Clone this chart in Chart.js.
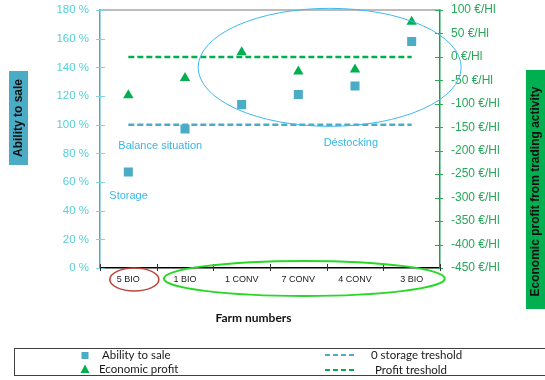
<!DOCTYPE html>
<html>
<head>
<meta charset="utf-8">
<script src="https://cdn.jsdelivr.net/npm/chart.js@4.4.1/dist/chart.umd.min.js"></script>
<style>
  html, body { margin: 0; padding: 0; background: #ffffff; }
  #wrap { width: 545px; height: 380px; }
</style>
</head>
<body>
<div id="wrap"><canvas id="chart" width="545" height="380"></canvas></div>
<script>
// Farms on the horizontal axis
const farms = ['5 BIO', '1 BIO', '1 CONV', '7 CONV', '4 CONV', '3 BIO'];
// Ability to sale, % (left axis)
const abilityToSale = [67, 97, 114, 121, 127, 158];
// Economic profit from trading activity, €/Hl (right axis)
const economicProfit = [-82, -45, 10, -31, -27, 75];
// Reference lines
const storageThreshold = [100, 100, 100, 100, 100, 100];
const profitThreshold = [0, 0, 0, 0, 0, 0];
// Axis ranges
const pctAxis = { min: 0, max: 180, step: 20 };
const euroAxis = { min: -450, max: 100, step: 50 };

const BLUE = '#4bacc6';
const GREEN = '#00b050';
const NOTE = '#38b6e8';

// Fixed plot frame inside the 545x380 canvas
const FRAME = { left: 100, right: 440, top: 10, bottom: 268 };

const decorations = {
  id: 'decorations',
  afterDraw(chart) {
    const ctx = chart.ctx;
    const a = chart.chartArea;
    const x = chart.scales.x;
    const y = chart.scales.y;
    const y1 = chart.scales.y1;
    ctx.save();

    // top frame line
    ctx.strokeStyle = '#a6a6a6';
    ctx.lineWidth = 1.5;
    ctx.beginPath(); ctx.moveTo(a.left, a.top); ctx.lineTo(a.right, a.top); ctx.stroke();

    // tick marks crossing the axes
    ctx.lineWidth = 1;
    ctx.strokeStyle = '#86cfdc';
    y.ticks.forEach(t => {
      const py = Math.round(y.getPixelForValue(t.value)) + 0.5;
      ctx.beginPath(); ctx.moveTo(a.left - 4, py); ctx.lineTo(a.left + 5, py); ctx.stroke();
    });
    ctx.strokeStyle = '#2fa65a';
    y1.ticks.forEach(t => {
      const py = Math.round(y1.getPixelForValue(t.value)) + 0.5;
      ctx.beginPath(); ctx.moveTo(a.right - 5, py); ctx.lineTo(a.right + 3, py); ctx.stroke();
    });
    ctx.strokeStyle = '#333';
    const bounds = [a.left];
    for (let i = 0; i < farms.length - 1; i++) {
      bounds.push((x.getPixelForValue(i) + x.getPixelForValue(i + 1)) / 2);
    }
    bounds.push(a.right);
    bounds.forEach(bx => {
      const px = Math.round(bx) + 0.5;
      ctx.beginPath(); ctx.moveTo(px, a.bottom - 4); ctx.lineTo(px, a.bottom + 3); ctx.stroke();
    });

    // notes inside the plot
    ctx.fillStyle = NOTE;
    ctx.font = '11px "Liberation Sans", Arial, sans-serif';
    ctx.textBaseline = 'middle';
    ctx.textAlign = 'left';
    const x0 = x.getPixelForValue(0);
    ctx.fillText('Balance situation', x0 - 10, y.getPixelForValue(85));
    ctx.fillText('Storage', x0 - 19, y.getPixelForValue(50.5));
    ctx.fillText('Déstocking', (x.getPixelForValue(3) + x.getPixelForValue(4)) / 2 - 3, y.getPixelForValue(87.5));

    // grouping ellipses
    ctx.lineWidth = 1;
    ctx.strokeStyle = '#3fb8ec';
    ctx.beginPath();
    ctx.ellipse((x.getPixelForValue(3) + x.getPixelForValue(4)) / 2 + 3, y.getPixelForValue(140), 131.5, 59, 0, 0, Math.PI * 2);
    ctx.stroke();

    ctx.lineWidth = 1.6;
    ctx.strokeStyle = '#b9473e';
    ctx.beginPath();
    ctx.ellipse(x0 + 6, a.bottom + 11.5, 24.5, 11.5, 0, 0, Math.PI * 2);
    ctx.stroke();

    ctx.lineWidth = 2;
    ctx.strokeStyle = '#27d827';
    ctx.beginPath();
    ctx.ellipse((x.getPixelForValue(1) + x.getPixelForValue(5)) / 2 + 6, a.bottom + 10.5, 140.5, 17.5, 0, 0, Math.PI * 2);
    ctx.stroke();

    // axis titles
    ctx.fillStyle = BLUE;
    ctx.fillRect(9, 71, 19, 94);
    ctx.fillStyle = GREEN;
    ctx.fillRect(526, 70, 22, 239);

    ctx.fillStyle = '#111';
    ctx.font = 'bold 12px "Liberation Sans", Arial, sans-serif';
    ctx.textAlign = 'center';
    ctx.textBaseline = 'middle';
    ctx.save();
    ctx.translate(19, 118);
    ctx.rotate(-Math.PI / 2);
    ctx.fillText('Ability to sale', 0, 0);
    ctx.restore();
    ctx.save();
    ctx.translate(536, 191.5);
    ctx.rotate(-Math.PI / 2);
    ctx.fillText('Economic profit from trading activity', 0, 0);
    ctx.restore();

    ctx.font = 'bold 12px Lato, "Liberation Sans", sans-serif';
    ctx.fillText('Farm numbers', 253.5, 318);

    // legend
    ctx.strokeStyle = '#404040';
    ctx.lineWidth = 1;
    ctx.strokeRect(14.5, 348.5, 560, 27);

    ctx.fillStyle = BLUE;
    ctx.fillRect(81.5, 352, 7, 7);
    ctx.fillStyle = GREEN;
    ctx.beginPath();
    ctx.moveTo(85, 364.5); ctx.lineTo(89.5, 373); ctx.lineTo(80.5, 373); ctx.closePath();
    ctx.fill();

    ctx.lineWidth = 2;
    ctx.setLineDash([5, 3]);
    ctx.strokeStyle = BLUE;
    ctx.beginPath(); ctx.moveTo(325, 355); ctx.lineTo(357, 355); ctx.stroke();
    ctx.strokeStyle = GREEN;
    ctx.beginPath(); ctx.moveTo(325, 370); ctx.lineTo(357, 370); ctx.stroke();
    ctx.setLineDash([]);

    ctx.fillStyle = '#1a1a1a';
    ctx.font = '11.5px Lato, "Liberation Sans", sans-serif';
    ctx.textAlign = 'left';
    ctx.fillText('Ability to sale', 102, 355.5);
    ctx.fillText('Economic profit', 99, 369);
    ctx.fillText('0 storage treshold', 371, 355);
    ctx.fillText('Profit treshold', 375, 370);

    ctx.restore();
  }
};

// Pin the plot area to the fixed frame after Chart.js lays out the boxes
const pinFrame = {
  id: 'pinFrame',
  afterLayout(chart) {
    const a = chart.chartArea;
    a.left = FRAME.left; a.right = FRAME.right; a.top = FRAME.top; a.bottom = FRAME.bottom;
    a.width = a.right - a.left; a.height = a.bottom - a.top;
    const sx = chart.scales.x, sy = chart.scales.y, sy1 = chart.scales.y1;
    sx.left = a.left; sx.right = a.right; sx.width = a.width; sx.top = a.bottom; sx.bottom = 380;
    sy.top = a.top; sy.bottom = a.bottom; sy.height = a.height; sy.right = a.left; sy.left = 0;
    sy1.top = a.top; sy1.bottom = a.bottom; sy1.height = a.height; sy1.left = a.right; sy1.right = 545;
    [sx, sy, sy1].forEach(s => { s.configure(); });
  }
};

new Chart(document.getElementById('chart'), {
  type: 'line',
  data: {
    labels: farms,
    datasets: [
      {
        label: 'Ability to sale',
        data: abilityToSale,
        yAxisID: 'y',
        showLine: false,
        pointStyle: 'rect',
        pointRadius: 6.4,
        pointHoverRadius: 6.4,
        backgroundColor: BLUE,
        borderColor: BLUE,
        borderWidth: 0
      },
      {
        label: 'Economic profit',
        data: economicProfit,
        yAxisID: 'y1',
        showLine: false,
        pointStyle: 'triangle',
        pointRadius: 6,
        pointHoverRadius: 6,
        backgroundColor: GREEN,
        borderColor: GREEN,
        borderWidth: 0
      },
      {
        label: '0 storage treshold',
        data: storageThreshold,
        yAxisID: 'y',
        borderColor: BLUE,
        borderWidth: 2.5,
        borderDash: [6, 3],
        pointRadius: 0,
        fill: false
      },
      {
        label: 'Profit treshold',
        data: profitThreshold,
        yAxisID: 'y1',
        borderColor: GREEN,
        borderWidth: 2.5,
        borderDash: [6, 3],
        pointRadius: 0,
        fill: false
      }
    ]
  },
  options: {
    responsive: false,
    animation: false,
    events: [],
    layout: { padding: { top: 10, left: 0, right: 0, bottom: 0 } },
    plugins: { legend: { display: false }, tooltip: { enabled: false } },
    scales: {
      x: {
        offset: true,
        afterFit(s) { s.height = 112; },
        grid: { display: true, drawOnChartArea: false, drawTicks: false, offset: true },
        border: { display: true, color: '#000000', width: 1.5 },
        ticks: {
          color: '#1a1a1a',
          padding: 6,
          font: { family: '"Liberation Sans", Arial, sans-serif', size: 9 }
        }
      },
      y: {
        position: 'left',
        min: pctAxis.min,
        max: pctAxis.max,
        afterFit(s) { s.width = 100; },
        grid: { drawOnChartArea: false, drawTicks: false },
        border: { display: true, color: BLUE, width: 1.5 },
        ticks: {
          stepSize: pctAxis.step,
          padding: 11,
          color: '#55d0d8',
          font: { family: '"Liberation Sans", Arial, sans-serif', size: 11.5 },
          callback: v => v + ' %'
        }
      },
      y1: {
        position: 'right',
        min: euroAxis.min,
        max: euroAxis.max,
        afterFit(s) { s.width = 105; },
        grid: { drawOnChartArea: false, drawTicks: false },
        border: { display: true, color: '#13a04a', width: 1.5 },
        ticks: {
          stepSize: euroAxis.step,
          padding: 11,
          color: '#27a95a',
          font: { family: '"Liberation Sans", Arial, sans-serif', size: 12 },
          callback: v => v + ' €/Hl'
        }
      }
    }
  },
  plugins: [pinFrame, decorations]
});
</script>
</body>
</html>
